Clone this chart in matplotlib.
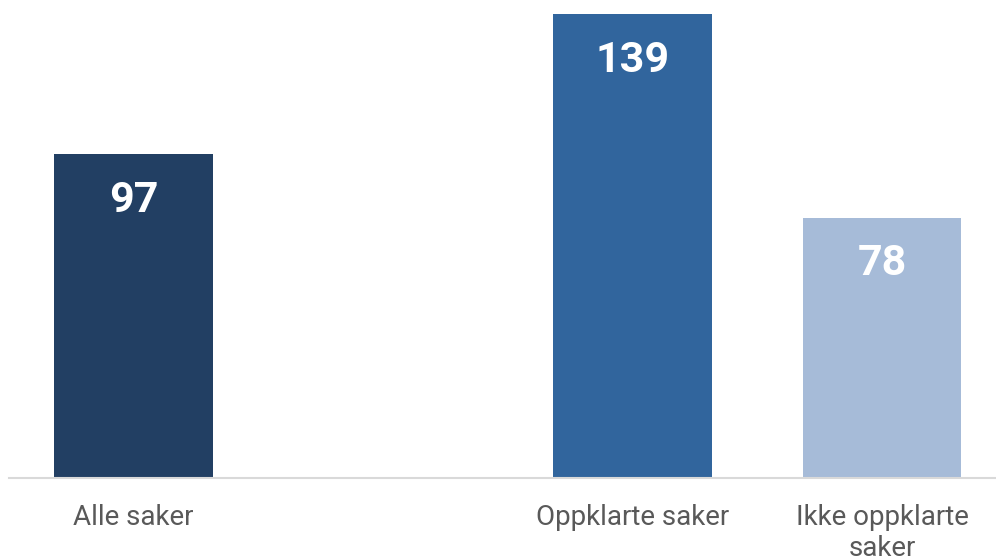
import matplotlib.pyplot as plt

# kategorier og verdier (tom plass mellom første og andre søyle)
categories = ["Alle saker", "", "Oppklarte saker", "Ikke oppklarte\nsaker"]
values = [97, None, 139, 78]
colors = ["#223F63", "#FFFFFF", "#31659D", "#A6BBD8"]

plt.rcParams['font.family'] = ['Roboto', 'DejaVu Sans']

fig = plt.figure(figsize=(9.96, 5.6), dpi=100)
ax = fig.add_axes([8.75 / 996, 82 / 560, 987.25 / 996, 478 / 560])

xs = [i for i, v in enumerate(values) if v is not None]
vals = [v for v in values if v is not None]
cols = [colors[i] for i in xs]
ax.bar(xs, vals, width=0.637, color=cols, zorder=2)

# verdier inne i søylene
for x, v in zip(xs, vals):
    ax.annotate(str(v), (x, v), xytext=(0, -46), textcoords='offset pixels',
                ha='center', va='center', color='white', fontsize=31,
                fontweight='bold')

ax.set_xlim(-0.5, (996 - 133.5) / 249.5)
ax.set_ylim(0, 139 * 478 / 464)
ax.set_xticks(range(len(categories)))
ax.set_xticklabels(categories, fontsize=20, color='#595959', linespacing=1.15)
ax.tick_params(axis='x', length=0, pad=19)
ax.set_yticks([])

for s in ['top', 'right', 'left']:
    ax.spines[s].set_visible(False)
ax.spines['bottom'].set_color('#D9D9D9')
ax.spines['bottom'].set_linewidth(1.5)

fig.savefig("out.png", dpi=100)
